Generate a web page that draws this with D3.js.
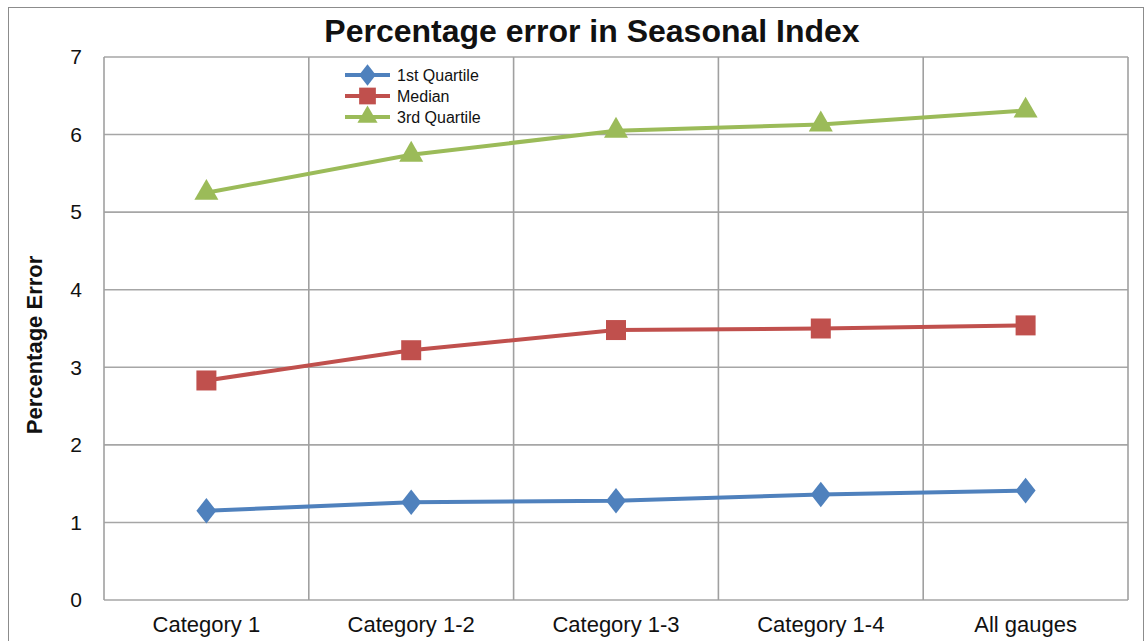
<!DOCTYPE html>
<html>
<head>
<meta charset="utf-8">
<script src="https://cdn.jsdelivr.net/npm/d3@7"></script>
<style>
  body { margin: 0; background: #fff; }
  svg { display: block; font-family: "Liberation Sans", Arial, sans-serif; }
</style>
</head>
<body>
<div id="chart"></div>
<script>
// chart data
var categories = ['Category 1', 'Category 1-2', 'Category 1-3', 'Category 1-4', 'All gauges'];
var firstQuartile = [1.15, 1.26, 1.28, 1.36, 1.41];
var median = [2.83, 3.22, 3.48, 3.50, 3.54];
var thirdQuartile = [5.25, 5.74, 6.05, 6.13, 6.31];
var yTicks = [0, 1, 2, 3, 4, 5, 6, 7];

var series = [
  { name: '1st Quartile', values: firstQuartile, color: '#4f81bd', symbol: d3.symbolDiamond, size: 190 },
  { name: 'Median', values: median, color: '#c0504d', symbol: d3.symbolSquare, size: 400 },
  { name: '3rd Quartile', values: thirdQuartile, color: '#9bbb59', symbol: d3.symbolTriangle, size: 250 }
];

var W = 1146, H = 641;
var margin = { left: 104, right: 18, top: 57, bottom: 41 };

var svg = d3.select('#chart').append('svg')
  .attr('width', W)
  .attr('height', H);

// outer frame
svg.append('rect')
  .attr('x', 8.5).attr('y', 7.5)
  .attr('width', 1135).attr('height', 650)
  .attr('fill', 'none')
  .attr('stroke', '#8c8c8c')
  .attr('stroke-width', 1);

var x = d3.scaleBand()
  .domain(categories)
  .range([margin.left, W - margin.right]);

var y = d3.scaleLinear()
  .domain([0, 7])
  .range([H - margin.bottom, margin.top]);

// horizontal grid
svg.append('g')
  .selectAll('line')
  .data(yTicks)
  .enter().append('line')
  .attr('x1', margin.left).attr('x2', W - margin.right)
  .attr('y1', d => y(d)).attr('y2', d => y(d))
  .attr('stroke', '#a6a6a6')
  .attr('stroke-width', 1.6);

// vertical grid (category boundaries)
var bounds = categories.map(c => x(c)).concat([x.range()[1]]);
svg.append('g')
  .selectAll('line')
  .data(bounds)
  .enter().append('line')
  .attr('x1', d => d).attr('x2', d => d)
  .attr('y1', y(0)).attr('y2', y(7))
  .attr('stroke', '#a0a0a0')
  .attr('stroke-width', 1.6);

// y axis labels
var yAxis = d3.axisLeft(y).tickValues(yTicks).tickFormat(d3.format('d')).tickSize(0).tickPadding(22);
svg.append('g')
  .attr('transform', 'translate(' + margin.left + ',0)')
  .call(yAxis)
  .call(g => g.select('.domain').remove())
  .selectAll('text')
  .attr('font-size', 21)
  .attr('font-family', '"Liberation Sans", Arial, sans-serif')
  .attr('fill', '#111');

// x axis labels
var xAxis = d3.axisBottom(x).tickSize(0).tickPadding(16);
svg.append('g')
  .attr('transform', 'translate(0,' + y(0) + ')')
  .call(xAxis)
  .call(g => g.select('.domain').remove())
  .selectAll('text')
  .attr('font-size', 22)
  .attr('font-family', '"Liberation Sans", Arial, sans-serif')
  .attr('fill', '#111');

// titles
svg.append('text')
  .attr('x', 592).attr('y', 42)
  .attr('text-anchor', 'middle')
  .attr('font-size', 32)
  .attr('font-weight', 'bold')
  .attr('fill', '#111')
  .text('Percentage error in Seasonal Index');

svg.append('text')
  .attr('transform', 'translate(42,345) rotate(-90)')
  .attr('text-anchor', 'middle')
  .attr('font-size', 22)
  .attr('font-weight', 'bold')
  .attr('fill', '#111')
  .text('Percentage Error');

// lines and markers
var line = d3.line()
  .x((d, i) => x(categories[i]) + x.bandwidth() / 2)
  .y(d => y(d));

series.forEach(function(s) {
  var g = svg.append('g');
  g.append('path')
    .datum(s.values)
    .attr('d', line)
    .attr('fill', 'none')
    .attr('stroke', s.color)
    .attr('stroke-width', 4);
  g.selectAll('path.marker')
    .data(s.values)
    .enter().append('path')
    .attr('class', 'marker')
    .attr('d', d3.symbol().type(s.symbol).size(s.size))
    .attr('transform', (d, i) => {
      var sx = s.symbol === d3.symbolDiamond ? ' scale(1.35,1)' : '';
      return 'translate(' + (x(categories[i]) + x.bandwidth() / 2) + ',' + y(d) + ')' + sx;
    })
    .attr('fill', s.color);
});

// legend
var legend = svg.append('g').attr('transform', 'translate(345,75)');
series.forEach(function(s, i) {
  var row = legend.append('g').attr('transform', 'translate(0,' + (i * 21) + ')');
  row.append('line')
    .attr('x1', 0).attr('x2', 45)
    .attr('stroke', s.color)
    .attr('stroke-width', 4);
  row.append('path')
    .attr('d', d3.symbol().type(s.symbol).size(s.size * 0.7))
    .attr('transform', 'translate(22.5,0)' + (s.symbol === d3.symbolDiamond ? ' scale(1.35,1)' : ''))
    .attr('fill', s.color);
  row.append('text')
    .attr('x', 52).attr('y', 5.5)
    .attr('font-size', 16)
    .attr('fill', '#111')
    .text(s.name);
});
</script>
</body>
</html>
